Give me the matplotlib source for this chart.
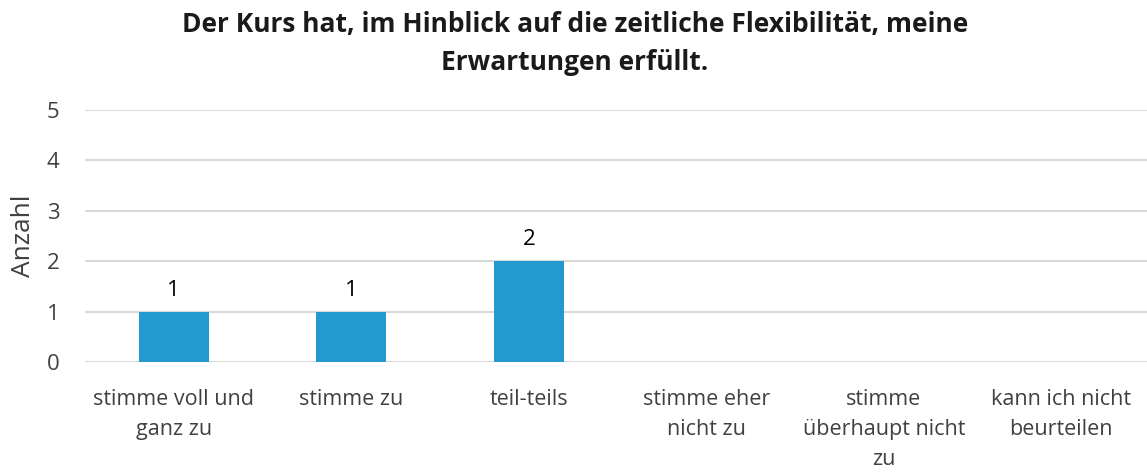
"""
Balkendiagramm: Kursbewertung zeitliche Flexibilitaet
"""

import numpy as np
import matplotlib.pyplot as plt

plt.rcParams['font.family'] = ['Open Sans', 'DejaVu Sans']

categories = ["stimme voll und\nganz zu", "stimme zu", "teil-teils",
              "stimme eher\nnicht zu", "stimme\nüberhaupt nicht\nzu",
              "kann ich nicht\nbeurteilen"]
counts = [1, 1, 2, 0, 0, 0]
y_ticks = [0, 1, 2, 3, 4, 5]
title_lines = ["Der Kurs hat, im Hinblick auf die zeitliche Flexibilität, meine",
               "Erwartungen erfüllt."]
y_label = "Anzahl"

bar_color = '#2399D0'
grid_color = '#D9D9D9'
text_color = '#404040'

W, H = 1147, 475
fig = plt.figure(figsize=(W / 100, H / 100), dpi=100)
ax = fig.add_axes([85 / W, (H - 362) / H, 1065 / W, 252 / H])

x = np.arange(len(categories))
ax.bar(x, counts, width=70 / 177.5, color=bar_color, zorder=3)

# Datenbeschriftungen (nur fuer Werte > 0)
for xi, v in zip(x, counts):
    if v > 0:
        ax.annotate(str(v), (xi, v), xytext=(0, 11.5), textcoords='offset points',
                    ha='center', va='baseline', fontsize=16, color='black')

ax.set_xlim(-0.5, len(categories) - 0.5)
ax.set_ylim(0, 5)
ax.set_yticks(y_ticks)
ax.set_yticklabels([str(t) for t in y_ticks], fontsize=16, color=text_color)
ax.set_xticks(x)
ax.set_xticklabels(categories, fontsize=15.5, color=text_color, linespacing=1.56)
ax.tick_params(axis='both', length=0)
ax.tick_params(axis='x', pad=19.5)
ax.tick_params(axis='y', pad=18.5)

ax.grid(axis='y', color=grid_color, linewidth=1.5, zorder=0)
for s in ax.spines.values():
    s.set_visible(False)

ax.set_ylabel(y_label, fontsize=19, color=text_color, va='center')
ax.yaxis.set_label_coords((24 - 85) / 1065, 0.5)

# Titel, zwei Zeilen
for line, base in zip(title_lines, [32, 70]):
    fig.text(575 / W, 1 - base / H, line, ha='center', va='baseline', fontsize=19,
             fontweight='bold', color='#1a1a1a')

fig.savefig('out.png', dpi=100)
